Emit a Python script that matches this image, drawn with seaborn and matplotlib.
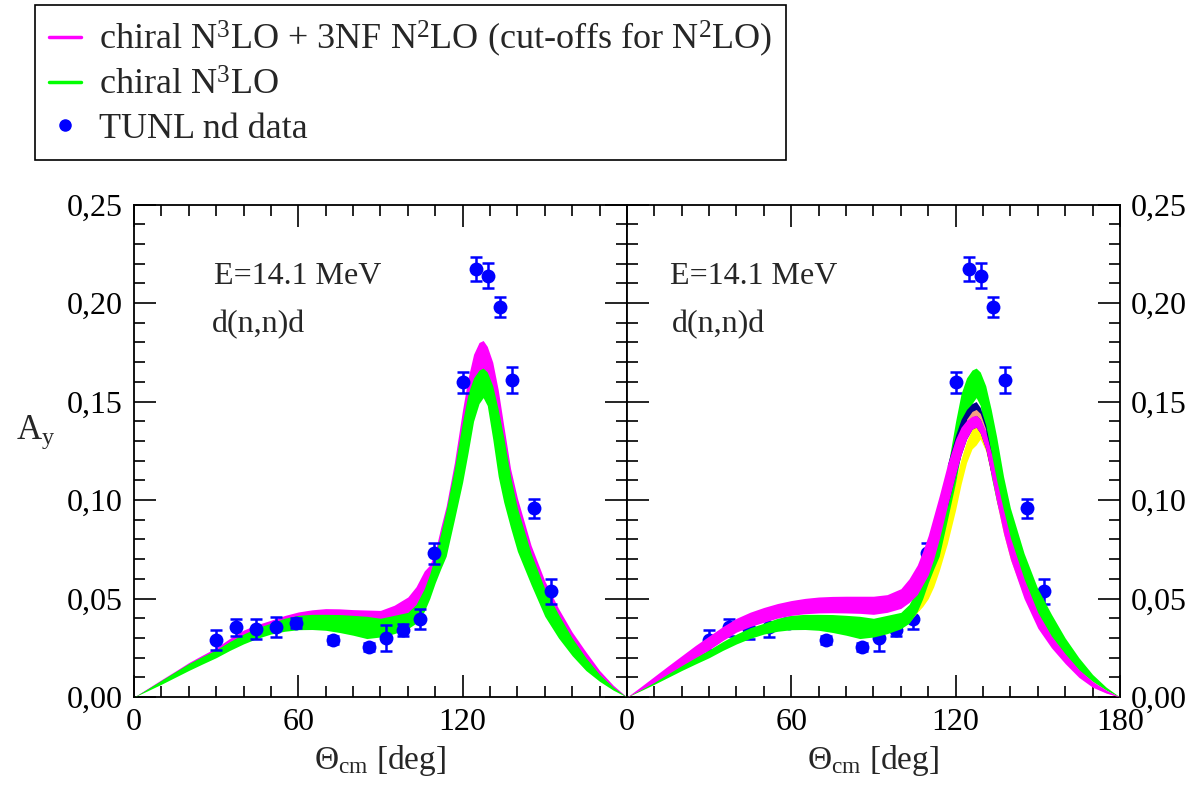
import matplotlib
matplotlib.use("Agg")
import matplotlib.pyplot as plt
from matplotlib.lines import Line2D
from matplotlib.ticker import MultipleLocator
import seaborn as sns

# angles (deg) where the theory bands are sampled
theta = [0, 5, 10, 15, 20, 25, 30, 35, 40, 45, 50, 55, 60, 65, 70, 75, 80, 85, 90,
         95, 100, 103, 106, 108, 110, 112, 114, 117, 120, 122, 124, 126, 127.5,
         129, 131, 133, 135, 137.5, 140, 145, 150, 155, 160, 165, 170, 175, 180]

# chiral N3LO band (both panels)
n3lo_lo = [0, .0032, .0065, .010, .0135, .0168, .020, .0237, .027, .0298, .032,
           .0334, .0342, .0343, .0339, .0328, .0314, .0297, .0305, .0322, .0347,
           .0375, .0435, .050, .058, .065, .0715, .090,
           .109, .124, .140, .149, .152, .148, .131, .112, .099, .086, .074, .057,
           .041, .030, .021, .0135, .008, .0035, 0]
n3lo_hi = [0, .0042, .0085, .0128, .017, .0206, .024, .0282, .032, .0352, .0375,
           .0400, .0415, .0420, .042, .0419, .0415, .041, .040, .0415, .043,
           .047, .055, .0625, .072, .083, .095, .116,
           .140, .154, .162, .166, .167, .165, .158, .146, .132, .112, .096, .073,
           .055, .042, .030, .020, .0115, .005, 0]

# N3LO + 3NF N2LO band, left panel
nf_left_lo = [0, .0037, .0075, .0112, .015, .0186, .022, .0257, .029, .0318, .034,
              .0358, .037, .0377, .038, .0377, .037, .036, .036, .037, .039,
              .042, .049, .056, .063, .072, .080, .100,
              .122, .138, .150, .157, .159, .156, .142, .125, .110, .094, .081,
              .063, .046, .034, .024, .016, .009, .004, 0]
nf_left_hi = [0, .0044, .0088, .0131, .0175, .0213, .025, .0298, .034, .0368, .039,
              .0414, .0432, .0443, .0449, .0448, .0444, .0442, .044, .0466, .0508,
              .056, .064, .067, .074, .086, .097, .119,
              .146, .162, .174, .180, .181, .178, .170, .156, .138, .116, .101,
              .077, .059, .045, .033, .023, .0135, .006, 0]

# N3LO + 3NF N2LO band, right panel
nf_right_lo = [0, .0037, .0075, .0118, .016, .020, .024, .0287, .033, .0358, .038,
               .0401, .0415, .0423, .0427, .0428, .0427, .0425, .042, .043, .045,
               .048, .052, .057, .062, .070, .080, .097,
               .113, .123, .131, .136, .137, .134, .126, .113, .099, .083, .070,
               .050, .035, .025, .017, .010, .005, .002, 0]
nf_right_hi = [0, .0052, .0105, .0158, .021, .0262, .031, .0358, .040, .0431, .0455,
               .0475, .049, .0501, .0508, .0511, .0512, .0512, .0512, .052, .055,
               .060, .067, .074, .082, .092, .102, .118,
               .131, .137, .1405, .1425, .143, .141, .135, .124, .110, .095, .081,
               .060, .043, .031, .022, .014, .008, .0035, 0]

# extra bands of the right panel
yellow_lo = [0, .0035, .007, .0105, .014, .0175, .021, .0247, .028, .0308, .033,
             .0343, .035, .0352, .035, .0337, .032, .031, .031, .033, .035,
             .038, .043, .046, .050, .056, .064, .078,
             .095, .108, .119, .126, .128, .131, .125, .113, .099, .083, .070,
             .051, .036, .026, .018, .011, .0055, .0022, 0]
yellow_hi = [0, .004, .008, .012, .016, .0195, .023, .027, .031, .0337, .036,
             .0378, .039, .0397, .040, .0397, .039, .038, .038, .040, .041,
             .044, .049, .055, .062, .070, .080, .092,
             .110, .121, .130, .136, .138, .139, .134, .123, .109, .093, .079,
             .058, .042, .030, .021, .013, .0075, .003, 0]
navy_theta = [117, 120, 122, 124, 126, 127.5, 129, 131, 133]
navy_lo = [.097, .113, .123, .131, .136, .137, .134, .126, .113]
navy_hi = [.118, .133, .141, .146, .149, .150, .147, .138, .124]
salmon_theta = [124, 126, 127.5, 129, 131]
salmon_lo = [.138, .142, .143, .141, .134]
salmon_hi = [.141, .145, .146, .144, .136]

# TUNL nd data
tunl_theta = [29.9, 37.2, 44.5, 51.7, 59.0, 72.6, 85.9, 92.0, 98.2, 104.3, 109.6,
              120.0, 124.8, 129.4, 133.8, 138.0, 145.9, 152.4]
tunl_ay = [0.0288, 0.0355, 0.0345, 0.0356, 0.0378, 0.0288, 0.0254, 0.0300, 0.0339,
           0.0398, 0.0729, 0.1598, 0.2172, 0.2138, 0.1980, 0.1610, 0.0958, 0.0537]
tunl_err = [0.0050, 0.0043, 0.0050, 0.0050, 0.0025, 0.0020, 0.0020, 0.0064, 0.0030,
            0.0050, 0.0053, 0.0053, 0.0060, 0.0064, 0.0053, 0.0064, 0.0050, 0.0064]

xticks = [0, 60, 120, 180]
yticks = [0.0, 0.05, 0.10, 0.15, 0.20, 0.25]
ytick_labels = ['0,00', '0,05', '0,10', '0,15', '0,20', '0,25']

MAGENTA = '#ff00ff'
GREEN = '#00ff00'
BLUE = '#0000ff'

sns.set_theme(style="ticks")
plt.rcParams['font.family'] = ['Liberation Serif', 'DejaVu Serif']
plt.rcParams['mathtext.fontset'] = 'custom'
plt.rcParams['mathtext.rm'] = 'Liberation Serif'
plt.rcParams['mathtext.it'] = 'Liberation Serif:italic'

fig = plt.figure(figsize=(11.96, 7.85), dpi=100)
ax1 = fig.add_axes([0.112, 0.112, 0.4122, 0.6274])
ax2 = fig.add_axes([0.5242, 0.112, 0.4122, 0.6274])


def draw_data(ax, z):
    ax.errorbar(tunl_theta, tunl_ay, yerr=tunl_err, fmt='none', ecolor=BLUE,
                elinewidth=1.8, capsize=4, capthick=1.8, zorder=z)
    sns.scatterplot(x=tunl_theta, y=tunl_ay, ax=ax, color=BLUE, s=100,
                    linewidth=0, zorder=z + 0.1, legend=False)


# left panel
ax1.fill_between(theta, nf_left_lo, nf_left_hi, color=MAGENTA, lw=0, zorder=2)
ax1.fill_between(theta, n3lo_lo, n3lo_hi, color=GREEN, lw=0, zorder=3)
draw_data(ax1, 5)

# right panel: data sits under the bands
draw_data(ax2, 1)
ax2.fill_between(theta, yellow_lo, yellow_hi, color='#ffff00', lw=0, zorder=2)
ax2.fill_between(theta, n3lo_lo, n3lo_hi, color=GREEN, lw=0, zorder=3)
ax2.fill_between(navy_theta, navy_lo, navy_hi, color='#00008b', lw=0, zorder=4)
ax2.fill_between(salmon_theta, salmon_lo, salmon_hi, color='#f4a080', lw=0, zorder=4.5)
ax2.fill_between(theta, nf_right_lo, nf_right_hi, color=MAGENTA, lw=0, zorder=5)

for ax in (ax1, ax2):
    ax.set_xlim(0, 180)
    ax.set_ylim(0, 0.25)
    ax.set_xticks(xticks)
    ax.set_yticks(yticks)
    ax.set_yticklabels(ytick_labels)
    ax.xaxis.set_minor_locator(MultipleLocator(10))
    ax.yaxis.set_minor_locator(MultipleLocator(0.01))
    ax.tick_params(which='both', direction='in', top=True, right=True,
                   left=True, bottom=True, width=1.2, colors='black',
                   labelsize=23, pad=8)
    ax.tick_params(which='major', length=16)
    ax.tick_params(which='minor', length=8)
    for sp in ax.spines.values():
        sp.set_linewidth(1.3)
        sp.set_color('black')
    ax.set_xlabel('Θ$_{\\mathrm{cm}}$ [deg]', fontsize=24, labelpad=4)

ax1.set_xticklabels(['0', '60', '120', ''])
ax2.set_xticklabels(['0', '60', '120', '180'])
ax2.tick_params(labelleft=False, labelright=True)

ax1.set_ylabel('A$_{\\mathrm{y}}$', fontsize=25, rotation=0)
ax1.yaxis.set_label_coords(-0.2, 0.5)

ax1.text(29.2, 0.2134, 'E=14.1 MeV', fontsize=23, va='center')
ax1.text(28.3, 0.189, 'd(n,n)d', fontsize=23, va='center')
ax2.text(15.8, 0.2134, 'E=14.1 MeV', fontsize=23, va='center')
ax2.text(16.5, 0.189, 'd(n,n)d', fontsize=23, va='center')

handles = [Line2D([], [], color=MAGENTA, lw=2.5),
           Line2D([], [], color=GREEN, lw=2.5),
           Line2D([], [], marker='o', color=BLUE, ls='none', markersize=8)]
labels = ['chiral N$^{3}$LO + 3NF N$^{2}$LO (cut-offs for N$^{2}$LO)',
          'chiral N$^{3}$LO',
          'TUNL nd data']
leg = fig.legend(handles, labels, loc='upper left',
                 bbox_to_anchor=(35 / 1196, 1 - 5 / 785), borderaxespad=0,
                 frameon=True, fancybox=False, edgecolor='black', framealpha=1,
                 fontsize=26, handlelength=0.9, handletextpad=0.5,
                 borderpad=0.38, labelspacing=0.28)
leg.get_frame().set_linewidth(1.2)

fig.savefig('out.png', dpi=100)
